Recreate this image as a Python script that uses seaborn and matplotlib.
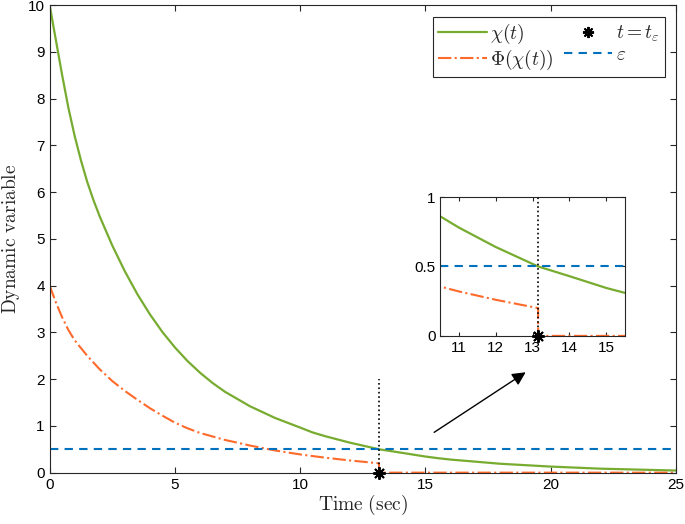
import matplotlib
matplotlib.use("Agg")
import matplotlib.pyplot as plt
import seaborn as sns
from matplotlib.lines import Line2D

# values
t_chi = [0, 0.25, 0.5, 0.75, 1.0, 1.25, 1.5, 1.75, 2.0, 2.5, 3.0, 3.5, 4.0, 4.5, 5.0,
         5.5, 6.0, 6.5, 7, 8, 9, 10, 10.5, 11, 12, 13.15, 14, 15, 15.5, 16, 18, 20,
         22, 25]
chi = [10, 9.25, 8.5, 7.8, 7.2, 6.68, 6.22, 5.83, 5.48, 4.86, 4.31, 3.82, 3.39,
       3.01, 2.68, 2.39, 2.14, 1.92, 1.73, 1.42, 1.17, 0.965, 0.86, 0.78, 0.64, 0.5,
       0.43, 0.345, 0.31, 0.28, 0.19, 0.13, 0.085, 0.045]

t_phi = [0, 0.25, 0.5, 0.75, 1.0, 1.5, 2.0, 2.5, 3.0, 3.5, 4.0, 4.5, 5.0, 5.5, 6.0,
         7, 8, 9, 10, 11, 12, 13.15, 13.15, 25]
phi = [4.0, 3.64, 3.32, 3.05, 2.83, 2.5, 2.21, 1.96, 1.75, 1.56, 1.38, 1.22, 1.07,
       0.95, 0.85, 0.7, 0.58, 0.475, 0.39, 0.32, 0.26, 0.2, 0.0, 0.0]

eps = 0.5
t_eps = 13.15
marker_top = 2
arrow_from = (15.26, 0.83)
arrow_to = (19.1, 2.18)

GREEN = "#77AC30"
ORANGE = "#FF6A2B"
BLUE = "#0072BD"
STAR = (8, 2, 0)

sns.set_style("ticks")
plt.rcParams.update({
    "font.family": ["Liberation Sans", "DejaVu Sans"],
    "mathtext.fontset": "cm",
    "xtick.direction": "in",
    "ytick.direction": "in",
    "xtick.top": True,
    "ytick.right": True,
    "axes.edgecolor": "#262626",
    "axes.linewidth": 0.8,
    "xtick.color": "#262626",
    "ytick.color": "#262626",
    "xtick.labelcolor": "black",
    "ytick.labelcolor": "black",
})

fig = plt.figure(figsize=(6.85, 5.24), dpi=100)
ax = fig.add_axes([0.0725, 0.098, 0.914, 0.892])


def draw(a):
    sns.lineplot(x=t_chi, y=chi, ax=a, color=GREEN, lw=1.6, estimator=None, sort=False)
    sns.lineplot(x=t_phi, y=phi, ax=a, color=ORANGE, lw=1.5, linestyle="-.",
                 estimator=None, sort=False)
    a.axhline(eps, color=BLUE, lw=1.5, linestyle=(0, (4, 3)))


draw(ax)
ax.plot([t_eps, t_eps], [0, marker_top], color="black", lw=1.2, linestyle=":")
ax.plot([t_eps], [0], linestyle="none", marker=STAR, ms=9, mew=1.4,
        color="black", clip_on=False, zorder=5)
ax.annotate("", xy=arrow_to, xytext=arrow_from,
            arrowprops=dict(arrowstyle="-|>", color="black", lw=1.0, mutation_scale=20))

ax.set_xlim(0, 25)
ax.set_ylim(0, 10)
ax.set_xticks(range(0, 26, 5))
ax.set_yticks(range(0, 11))
ax.tick_params(labelsize=11, length=4, width=0.8)
ax.set_xlabel(r"$\mathrm{Time\ (sec)}$", fontsize=14, labelpad=1)
ax.set_ylabel(r"$\mathrm{Dynamic\ variable}$", fontsize=14, labelpad=4)

handles = [
    Line2D([], [], color=GREEN, lw=1.6),
    Line2D([], [], color=ORANGE, lw=1.5, linestyle="-."),
    Line2D([], [], color="black", linestyle="none", marker=STAR, ms=8, mew=1.4),
    Line2D([], [], color=BLUE, lw=1.5, linestyle=(0, (4, 3))),
]
labels = [r"$\chi(t)$", r"$\Phi(\chi(t))$", r"$t=t_\varepsilon$", r"$\varepsilon$"]
leg = ax.legend(handles, labels, ncol=2, loc="upper right",
                bbox_to_anchor=(665 / 685, 1 - 17 / 524), bbox_transform=fig.transFigure,
                borderaxespad=0, fancybox=False, edgecolor="#262626", framealpha=1,
                fontsize=14, handlelength=2.5, columnspacing=0.5, labelspacing=0.1,
                handletextpad=0.2, borderpad=0.25)
leg.get_frame().set_linewidth(0.8)

# inset
axi = fig.add_axes([0.643, 0.359, 0.269, 0.265])
draw(axi)
axi.axvline(t_eps, color="black", lw=1.2, linestyle=":")
axi.plot([t_eps], [0], linestyle="none", marker=STAR, ms=9, mew=1.4,
         color="black", clip_on=False, zorder=5)
axi.set_xlim(10.5, 15.5)
axi.set_ylim(0, 1)
axi.set_xticks([11, 12, 13, 14, 15])
axi.set_yticks([0, 0.5, 1])
axi.set_yticklabels(["0", "0.5", "1"])
axi.tick_params(labelsize=11, length=3, width=0.8)
axi.set_xlabel("")
axi.set_ylabel("")

fig.savefig("out.png", dpi=100)
